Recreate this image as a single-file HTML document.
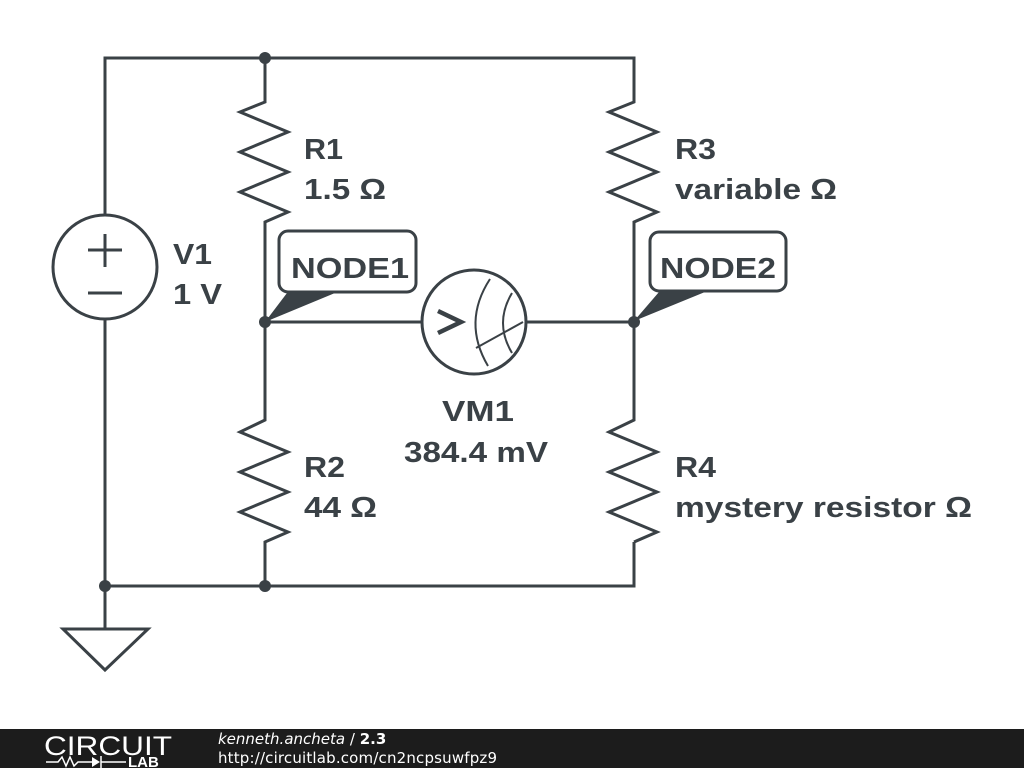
<!DOCTYPE html>
<html><head><meta charset="utf-8"><style>
html,body{margin:0;padding:0;background:#fff;width:1024px;height:768px;overflow:hidden}
svg{display:block}
text{font-family:"Liberation Sans",sans-serif;font-weight:bold;fill:#3a4146}
</style></head><body>
<svg width="1024" height="768" viewBox="0 0 1024 768">
<g stroke="#3a4146" stroke-width="3" fill="none" stroke-linejoin="miter">
<polyline points="105,215 105,58 634,58 634,100"/>
<polyline points="105,319 105,586 634,586 634,542"/>
<circle cx="105" cy="267" r="52"/>
<line x1="88" y1="250" x2="122" y2="250"/><line x1="105" y1="234" x2="105" y2="267"/>
<line x1="88" y1="293" x2="122" y2="293"/>
<line x1="105" y1="586" x2="105" y2="629"/>
<polygon points="63,629 148,629 105,670"/>
<polyline points="265,58 265,102 240,112 288,132 240,152 288,172 240,192 288,212 265,222 265,420 240,432 288,452 240,472 288,492 240,512 288,532 265,542 265,586"/>
<polyline points="634,100 634,102 609,112 657,132 609,152 657,172 609,192 657,212 634,222 634,420 609,432 657,452 609,472 657,492 609,512 657,532 634,542"/>
<line x1="265" y1="322" x2="422" y2="322"/><line x1="526" y1="322" x2="634" y2="322"/>
<circle cx="474" cy="322" r="52"/>
<path d="M490,279 Q462,322 488,366" stroke-width="2"/>
<path d="M512,293 Q494,323 512,353" stroke-width="2"/>
<line x1="476" y1="348" x2="523" y2="322" stroke-width="2"/>
<polyline points="438,311 461,322 438,333" stroke-width="4.5"/>
<rect x="279" y="231" width="137" height="61" rx="9"/>
<rect x="650" y="232" width="136" height="59" rx="9"/>
</g>
<g fill="#3a4146">
<polygon points="265,322 287,293 335,293"/>
<polygon points="634,321 659,292 705,292"/>
<circle cx="265" cy="58" r="6"/><circle cx="265" cy="322" r="6"/><circle cx="634" cy="322" r="6"/>
<circle cx="105" cy="586" r="6"/><circle cx="265" cy="586" r="6"/>
</g>
<g font-size="29" lengthAdjust="spacingAndGlyphs">
<text x="173" y="264" textLength="39" lengthAdjust="spacingAndGlyphs">V1</text><text x="173" y="304" textLength="49" lengthAdjust="spacingAndGlyphs">1 V</text>
<text x="304" y="159" textLength="39" lengthAdjust="spacingAndGlyphs">R1</text><text x="304" y="199" textLength="82" lengthAdjust="spacingAndGlyphs">1.5 Ω</text>
<text x="675" y="159" textLength="41" lengthAdjust="spacingAndGlyphs">R3</text><text x="675" y="199" textLength="162" lengthAdjust="spacingAndGlyphs">variable Ω</text>
<text x="304" y="477" textLength="41" lengthAdjust="spacingAndGlyphs">R2</text><text x="304" y="517" textLength="73" lengthAdjust="spacingAndGlyphs">44 Ω</text>
<text x="675" y="477" textLength="41" lengthAdjust="spacingAndGlyphs">R4</text><text x="675" y="517" textLength="297" lengthAdjust="spacingAndGlyphs">mystery resistor Ω</text>
<text x="442" y="421" textLength="72" lengthAdjust="spacingAndGlyphs">VM1</text>
<text x="404" y="462" textLength="144" lengthAdjust="spacingAndGlyphs">384.4 mV</text>
<text x="291" y="278" textLength="118" lengthAdjust="spacingAndGlyphs">NODE1</text>
<text x="660" y="278" textLength="116" lengthAdjust="spacingAndGlyphs">NODE2</text>
</g>
<rect x="0" y="729" width="1024" height="39" fill="#1c1c1c"/>
<text x="44" y="755" font-size="27" textLength="128" lengthAdjust="spacingAndGlyphs" style="fill:#fff;font-weight:normal">CIRCUIT</text>
<text x="128" y="767" font-size="15" style="fill:#fff">LAB</text>
<polyline points="46,762 58,762 62,757 66,766 70,757 74,766 78,762 92,762" stroke="#fff" stroke-width="1.5" fill="none"/>
<polygon points="92,757 92,767 100,762" fill="#fff"/><line x1="101" y1="756" x2="101" y2="768" stroke="#fff" stroke-width="1.5"/>
<line x1="101" y1="762" x2="126" y2="762" stroke="#fff" stroke-width="1.5"/>
<text x="218" y="744" font-size="15" style="fill:#fff;font-weight:normal;font-style:italic;font-family:'DejaVu Sans',sans-serif">kenneth.ancheta <tspan style="font-style:normal">/</tspan> <tspan style="font-weight:bold;font-style:normal">2.3</tspan></text>
<text x="218" y="763" font-size="15" textLength="279" style="fill:#fff;font-weight:normal;font-family:'DejaVu Sans',sans-serif">http://circuitlab.com/cn2ncpsuwfpz9</text>
</svg>
</body></html>
